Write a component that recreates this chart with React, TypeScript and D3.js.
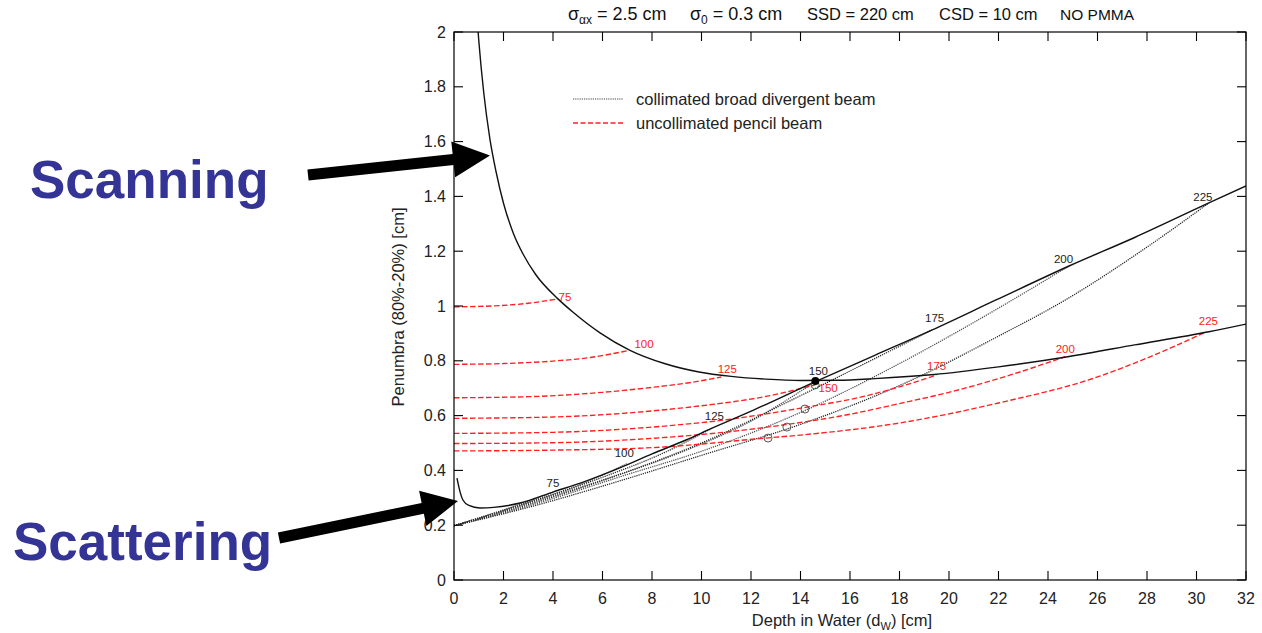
import React from "react";
import * as d3 from "d3";

// ---------- data (depth in water [cm], penumbra [cm]) ----------
const xTickValues = [0, 2, 4, 6, 8, 10, 12, 14, 16, 18, 20, 22, 24, 26, 28, 30, 32];
const yTickValues = [0, 0.2, 0.4, 0.6, 0.8, 1, 1.2, 1.4, 1.6, 1.8, 2];
const yTickLabels = ["0", "0.2", "0.4", "0.6", "0.8", "1", "1.2", "1.4", "1.6", "1.8", "2"];
const ssdLabels = ["75", "100", "125", "150", "175", "200", "225"];

// solid envelope, scanning system
const scanning: [number, number][] = [
  [0.9, 2.09], [1.0, 1.97], [1.2, 1.78], [1.45, 1.61], [1.7, 1.49], [2.0, 1.375], [2.4, 1.265],
  [2.8, 1.188], [3.3, 1.115], [4.2, 1.026], [4.8, 0.978], [5.9, 0.902], [7.07, 0.84],
  [8.5, 0.79], [9.9, 0.759], [11.2, 0.743], [12.6, 0.733], [14.0, 0.728], [15.5, 0.729],
  [17, 0.735], [19.4, 0.75], [22, 0.778], [24.8, 0.815], [27.5, 0.858], [30.5, 0.906], [32, 0.934],
];

// solid envelope, scattering system
const scattering: [number, number][] = [
  [0.12, 0.372], [0.25, 0.32], [0.36, 0.292], [0.6, 0.272], [1.05, 0.263], [1.6, 0.265],
  [2.67, 0.281], [4.0, 0.321], [5.3, 0.36], [6.7, 0.409], [8.0, 0.46], [9.37, 0.511],
  [10.4, 0.553], [12.1, 0.62], [14.6, 0.724], [17, 0.82], [19.3, 0.912], [21.9, 1.022],
  [24.85, 1.146], [27.5, 1.25], [30.5, 1.376], [32, 1.438],
];

// uncollimated pencil beam (red dashed), one per SSD
const pencil75: [number, number][] = [[0, 0.997], [1.5, 1.0], [3, 1.01], [4.2, 1.026]];
const pencil100: [number, number][] = [[0, 0.787], [2, 0.79], [4, 0.799], [5.5, 0.812], [7.07, 0.838]];
const pencil125: [number, number][] = [[0, 0.665], [3, 0.669], [6, 0.685], [8, 0.703], [9.5, 0.72], [10.8, 0.741]];
const pencil150: [number, number][] = [[0, 0.59], [4, 0.595], [8, 0.617], [10, 0.636], [12.6, 0.67], [14.59, 0.712]];
const pencil175: [number, number][] = [[0, 0.535], [4, 0.539], [8, 0.558], [11, 0.585], [12.6, 0.606], [14.06, 0.628], [16.6, 0.671], [18, 0.705], [19.5, 0.748]];
const pencil200: [number, number][] = [[0, 0.498], [4, 0.501], [8, 0.517], [11, 0.54], [13.4, 0.567], [16, 0.605], [18, 0.644], [20, 0.685], [22, 0.735], [24.7, 0.815]];
const pencil225: [number, number][] = [[0, 0.471], [4, 0.474], [8, 0.483], [12.6, 0.518], [14, 0.529], [18, 0.573], [22, 0.646], [26, 0.741], [28, 0.81], [30.4, 0.906]];

// collimated broad divergent beam (dotted), one per SSD
const broad75: [number, number][] = [[0, 0.198], [2, 0.255], [4.0, 0.321]];
const broad100: [number, number][] = [[0, 0.198], [2.5, 0.27], [5, 0.345], [7.0, 0.425]];
const broad125: [number, number][] = [[0, 0.198], [3, 0.282], [6, 0.375], [8.5, 0.465], [10.4, 0.553]];
const broad150: [number, number][] = [[0, 0.198], [3, 0.28], [6, 0.365], [9, 0.46], [12, 0.58], [14.6, 0.724]];
const broad175: [number, number][] = [[0, 0.198], [3, 0.275], [7, 0.395], [10, 0.5], [13.94, 0.67], [17, 0.808], [19.3, 0.912]];
const broad200: [number, number][] = [[0, 0.198], [3, 0.27], [7, 0.385], [10, 0.47], [13.94, 0.609], [18, 0.79], [21, 0.94], [24.85, 1.146]];
const broad225: [number, number][] = [[0, 0.198], [3, 0.265], [7, 0.37], [10, 0.455], [13.94, 0.566], [18.5, 0.73], [22, 0.89], [24.7, 1.022], [28, 1.215], [30.5, 1.376]];

const openCircles: [number, number][] = [[14.59, 0.712], [14.18, 0.624], [13.45, 0.558], [12.69, 0.518]];
const filledDots: [number, number][] = [[14.6, 0.726]];

const pencilSeries = [pencil75, pencil100, pencil125, pencil150, pencil175, pencil200, pencil225];
const broadSeries = [broad75, broad100, broad125, broad150, broad175, broad200, broad225];

// label offsets in px (layout, not data)
const redLabelOffsets = [[7, 2], [15, -2], [6, -4], [13, 7], [0, -5], [0, -4], [2, -7]];
const blackLabelOffsets = [[0, -5], [-3, -6.5], [3, -8.5], [3, -6.5], [3, -8], [-5.5, -3], [-6, -2]];

// ---------- layout ----------
const W = 1262;
const H = 633;
const L = 454, R = 1246, T = 32, B = 580;
const x = d3.scaleLinear().domain([0, 32]).range([L, R]);
const y = d3.scaleLinear().domain([0, 2]).range([B, T]);
const line = d3
  .line<[number, number]>()
  .x((d) => x(d[0]))
  .y((d) => y(d[1]))
  .curve(d3.curveMonotoneX);

const FONT = "'Liberation Sans', Arial, Helvetica, sans-serif";
const BLUE = "#343496";

function arrowPolygon(sx: number, sy: number, tx: number, ty: number, shaft: number, headLen: number, headHalf: number) {
  const dx = tx - sx, dy = ty - sy;
  const len = Math.hypot(dx, dy);
  const ux = dx / len, uy = dy / len;
  const px = -uy, py = ux;
  const bx = tx - ux * headLen, by = ty - uy * headLen;
  const s = shaft / 2;
  const pts = [
    [sx + px * s, sy + py * s],
    [bx + px * s, by + py * s],
    [bx + px * headHalf, by + py * headHalf],
    [tx, ty],
    [bx - px * headHalf, by - py * headHalf],
    [bx - px * s, by - py * s],
    [sx - px * s, sy - py * s],
  ];
  return pts.map((p) => p.join(",")).join(" ");
}

export default function App() {
  return (
    <svg
      width={W}
      height={H}
      style={{ position: "absolute", left: 0, top: 0, background: "#fff" }}
      fontFamily={FONT}
    >
      <defs>
        <clipPath id="plotclip">
          <rect x={L} y={T} width={R - L} height={B - T} />
        </clipPath>
      </defs>

      {/* title */}
      <g fill="#111">
        <text x={568} y={20} fontSize={18}>
          σ<tspan fontSize={12} dy={4}>αx</tspan>
          <tspan dy={-4}> = 2.5 cm</tspan>
        </text>
        <text x={690} y={20} fontSize={18}>
          σ<tspan fontSize={12} dy={4}>0</tspan>
          <tspan dy={-4}> = 0.3 cm</tspan>
        </text>
        <text x={807} y={20} fontSize={16.5}>SSD = 220 cm</text>
        <text x={939} y={20} fontSize={16.5}>CSD = 10 cm</text>
        <text x={1060} y={20} fontSize={15.5}>NO PMMA</text>
      </g>

      {/* curves */}
      <g clipPath="url(#plotclip)" fill="none">
        {broadSeries.map((s, i) => (
          <path
            key={"b" + i}
            d={line(s) || ""}
            stroke={i % 2 === 0 ? "#222" : "#4a4a4a"}
            strokeWidth={1.25}
            strokeDasharray="1.2 1"
          />
        ))}
        {pencilSeries.map((s, i) => (
          <path
            key={"p" + i}
            d={line(s) || ""}
            stroke="#ff2020"
            strokeWidth={1.35}
            strokeDasharray="5.5 2.5"
          />
        ))}
        <path d={line(scanning) || ""} stroke="#111" strokeWidth={1.4} />
        <path d={line(scattering) || ""} stroke="#111" strokeWidth={1.4} />
        {openCircles.map((c, i) => (
          <circle key={"o" + i} cx={x(c[0])} cy={y(c[1])} r={4} stroke="#444" strokeWidth={0.9} fill="none" />
        ))}
        {filledDots.map((c, i) => (
          <circle key={"f" + i} cx={x(c[0])} cy={y(c[1])} r={4} fill="#000" />
        ))}
      </g>

      {/* SSD labels */}
      <g fontSize={11.5} textAnchor="middle">
        {pencilSeries.map((s, i) => {
          const e = s[s.length - 1];
          return (
            <text key={"rl" + i} x={x(e[0]) + redLabelOffsets[i][0]} y={y(e[1]) + redLabelOffsets[i][1]} fill="#ff2020">
              {ssdLabels[i]}
            </text>
          );
        })}
        {broadSeries.map((s, i) => {
          const e = s[s.length - 1];
          return (
            <text key={"bl" + i} x={x(e[0]) + blackLabelOffsets[i][0]} y={y(e[1]) + blackLabelOffsets[i][1]} fill="#222">
              {ssdLabels[i]}
            </text>
          );
        })}
      </g>

      {/* legend */}
      <g>
        <line x1={573} x2={623} y1={99} y2={99} stroke="#444" strokeWidth={1.2} strokeDasharray="1.2 1" />
        <text x={636} y={105} fontSize={16.5} fill="#222">collimated broad divergent beam</text>
        <line x1={573} x2={623} y1={123} y2={123} stroke="#ff2020" strokeWidth={1.35} strokeDasharray="5 2.5" />
        <text x={636} y={129} fontSize={16.5} fill="#222">uncollimated pencil beam</text>
      </g>

      {/* frame and ticks */}
      <rect x={L} y={T} width={R - L} height={B - T} fill="none" stroke="#000" strokeWidth={1.2} />
      <g stroke="#000" strokeWidth={1.1}>
        {yTickValues.map((v, i) => (
          <g key={"yt" + i}>
            <line x1={L} x2={L + 9} y1={y(v)} y2={y(v)} />
            <line x1={R} x2={R - 9} y1={y(v)} y2={y(v)} />
          </g>
        ))}
        {xTickValues.map((v, i) => (
          <g key={"xt" + i}>
            <line x1={x(v)} x2={x(v)} y1={B} y2={B - 9} />
            <line x1={x(v)} x2={x(v)} y1={T} y2={T + 9} />
          </g>
        ))}
      </g>
      <g fontSize={16} fill="#222">
        {yTickValues.map((v, i) => (
          <text key={"yl" + i} x={446} y={y(v) + 5.5} textAnchor="end">
            {yTickLabels[i]}
          </text>
        ))}
        {xTickValues.map((v, i) => (
          <text key={"xl" + i} x={x(v)} y={604} textAnchor="middle">
            {String(v)}
          </text>
        ))}
      </g>

      {/* axis titles */}
      <text x={842} y={626} fontSize={16.5} textAnchor="middle" fill="#222">
        Depth in Water (d<tspan fontSize={11} dy={4}>W</tspan>
        <tspan dy={-4}>) [cm]</tspan>
      </text>
      <text
        transform="translate(404,307) rotate(-90)"
        fontSize={16.5}
        textAnchor="middle"
        fill="#222"
      >
        Penumbra (80%-20%) [cm]
      </text>

      {/* annotations */}
      <text x={30} y={198} fontSize={53} fontWeight="bold" fill={BLUE}>Scanning</text>
      <text x={13} y={560} fontSize={53} fontWeight="bold" fill={BLUE}>Scattering</text>
      <polygon points={arrowPolygon(308, 175, 490, 155.5, 11, 37, 18)} fill="#000" />
      <polygon points={arrowPolygon(279, 538, 458, 501, 11, 36, 18)} fill="#000" />
    </svg>
  );
}
